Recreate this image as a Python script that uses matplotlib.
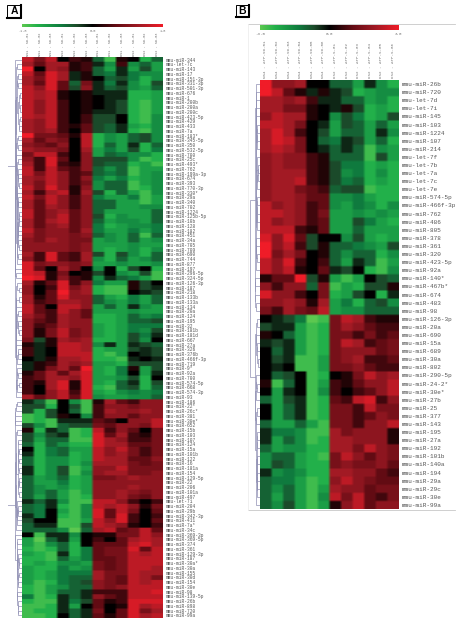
import numpy as np
import matplotlib
matplotlib.use("Agg")
import matplotlib.pyplot as plt
from matplotlib.colors import LinearSegmentedColormap
from matplotlib.patches import Rectangle

W, H = 463, 622

# panel A values, on a -9..9 scale
a_labels_top = ["344", "let-7c", "143", "17", "151-3p", "331-3p", "501-3p", "676", "1", "200b", "200a", "200c",
                "423-5p", "429", "433", "7a", "183*", "345-5p", "350", "532-5p", "700", "25c", "493*", "762",
                "199a-3p", "674", "393", "770-3p", "330*", "29a", "340", "702"]
a_top = [
    [7, 4, 7, 0, 2, 1, -3, -8, 1, 0, -7, -3],
    [6, 3, 6, 6, 1, 2, -1, -5, 2, -5, -3, -6],
    [9, 0, 6, 5, 1, 2, -3, -6, -1, -6, -2, -6],
    [7, 3, 8, 6, -1, 1, -3, -4, -1, -4, -5, -5],
    [6, 4, 8, 6, -1, 1, 0, -3, -2, -4, -7, -5],
    [6, 3, 8, 3, -3, 4, -1, -4, -1, -5, -7, -2],
    [7, 5, 8, 3, -2, 5, -1, -3, -2, -5, -6, -3],
    [7, 6, 7, 1, 0, 1, -1, -1, -1, -7, -7, -6],
    [7, 6, 7, 1, 0, 1, 0, -1, -1, -7, -7, -6],
    [7, 5, 7, 2, 0, 1, 0, -1, -2, -7, -8, -6],
    [7, 5, 7, 2, 0, 1, 0, -1, -2, -7, -8, -6],
    [7, 5, 7, 2, 0, 1, -1, -1, -2, -7, -8, -6],
    [7, 6, 7, 2, 0, 2, -2, -2, 0, -7, -8, -5],
    [6, 5, 7, 2, 0, 2, -2, -2, 0, -7, -8, -5],
    [6, 5, 7, 2, 1, 3, -2, -3, -1, -6, -7, -5],
    [6, 5, 6, 2, 0, 3, -2, -3, -1, -7, -8, -5],
    [9, 4, 4, 3, 1, 7, -7, -5, -6, -3, -2, -5],
    [6, 3, 5, 4, 0, 7, -7, -5, -6, -3, -2, -5],
    [5, 4, 3, 5, 0, 7, -7, -3, -6, -1, -7, -3],
    [6, 5, 5, 4, 0, 6, -6, -4, -6, -2, -7, -4],
    [4, 7, 7, 2, 0, 5, -6, -3, -4, -5, -5, -7],
    [5, 2, 8, 3, 0, 5, -2, -2, -2, -5, -8, -7],
    [6, 2, 8, 2, 1, 5, -2, -3, -3, -7, -6, -8],
    [7, 2, 7, 3, 2, 5, -3, -5, -3, -8, -6, -6],
    [7, 4, 7, 5, 2, 3, -3, -4, -3, -8, -6, -5],
    [6, 5, 7, 5, 2, 5, -4, -6, -4, -7, -6, -5],
    [6, 4, 7, 5, 2, 4, -5, -3, -3, -8, -6, -5],
    [7, 4, 8, 5, 1, 5, -5, -3, -3, -8, -7, -5],
    [6, 2, 6, 7, 1, 6, -2, -7, -3, -6, -8, -5],
    [7, 4, 7, 5, 2, 5, -4, -6, -6, -4, -8, -6],
    [6, 3, 7, 5, 2, 5, -3, -3, -6, -6, -8, -6],
    [6, 3, 6, 5, 2, 5, -3, -3, -6, -6, -5, -5],
]
a_labels_mid = ["1224", "125b-5p", "10b", "128", "182", "451", "34a", "705", "709", "690", "744", "877", "197",
                "296-5p", "324-5p", "126-3p", "187", "218", "133b", "133a", "134", "20a", "124", "195", "32",
                "181b", "181d", "667", "27a", "326", "376b", "466f-3p", "719", "9*", "92a", "700", "574-5p",
                "668", "574-3p", "93"]
a_mid = [
    [7, 3, 5, 6, 3, 5, -3, -6, -6, -6, -6, -3],
    [7, 3, 5, 7, 3, 5, -2, -7, -5, -6, -6, -3],
    [6, 3, 6, 7, 3, 5, -3, -6, -5, -5, -6, -3],
    [6, 3, 5, 6, 3, 5, -4, -7, -6, -5, -5, -4],
    [7, 4, 5, 5, 3, 6, -4, -6, -6, -4, -6, -4],
    [6, 4, 5, 5, 4, 5, -3, -5, -6, -3, -8, -3],
    [5, 4, 6, 5, 4, 4, -6, -5, -6, -3, -6, -5],
    [5, 5, 5, 5, 4, 5, -6, -6, -6, -5, -6, -6],
    [5, 5, 5, 5, 4, 5, -6, -7, -6, -5, -7, -5],
    [6, 2, 8, 3, 2, 6, -2, -7, -2, -5, -7, -3],
    [5, 2, 8, 3, 2, 6, -5, -7, -3, -6, -5, -3],
    [8, 4, 5, 5, 4, 5, -6, -6, -5, -6, -6, -5],
    [8, 3, 0, 6, 4, 0, -5, 0, -7, -2, 0, -7],
    [8, 7, 1, 4, 0, 1, -2, 0, -5, -6, -2, -8],
    [9, 8, 1, 5, 2, 1, -5, -1, -3, -4, -6, -8],
    [6, 1, 3, 8, 2, 5, -4, -6, -6, 1, -2, 0],
    [5, 0, 2, 8, 4, 6, -7, -8, -8, 1, -2, -1],
    [5, 0, 3, 9, 5, 6, -7, -8, -8, 0, -1, -2],
    [6, 1, 3, 8, 5, 5, -3, -6, -7, -4, -6, -3],
    [6, 2, 3, 6, 6, 5, -3, -5, -6, -4, -6, -3],
    [7, 3, 0, 7, 7, 5, -6, -3, -6, -1, -5, -6],
    [7, 3, 2, 7, 5, 3, -6, -6, -6, -5, -6, -6],
    [6, 4, 2, 6, 5, 3, -7, -7, -6, -3, -5, -4],
    [5, 3, 2, 6, 5, 5, -7, -7, -6, -3, -3, -2],
    [5, 2, 3, 6, 5, 5, -6, -7, -6, -4, -4, -4],
    [5, 1, 4, 7, 4, 5, -6, -7, -6, -4, -5, -2],
    [5, 1, 4, 7, 4, 5, -6, -7, -6, -2, -4, -1],
    [4, -2, 1, 6, 5, 6, -7, -7, -6, -2, -5, 0],
    [1, -1, 1, 7, 7, 6, -5, -1, -6, -1, -2, -3],
    [2, -1, 0, 7, 7, 6, -7, -6, -6, -2, -1, -2],
    [2, -1, 0, 7, 7, 7, -7, -8, -6, 0, -1, -2],
    [0, -1, 1, 6, 6, 7, -7, -7, -8, -1, 0, -1],
    [-1, 1, 2, 6, 5, 6, -6, -6, -7, -2, -2, -2],
    [-1, 1, 4, 6, 3, 9, -6, -7, -4, 1, -6, -2],
    [1, 3, 6, 3, 6, 8, -6, -7, -4, 0, -6, -1],
    [2, 3, 6, 6, 5, 8, -6, -6, -5, -2, -7, 0],
    [2, 1, 6, 8, 1, 8, -6, -7, -3, -1, -7, -2],
    [2, 0, 6, 8, 1, 8, -7, -8, -3, -2, -7, -3],
    [2, 0, 5, 7, 2, 8, -6, -7, -5, -4, -5, -4],
    [6, 3, 5, 7, 3, 8, -5, -6, -6, -5, -5, -3],
]
a_labels_low = ["186", "22*", "26c*", "381", "30e*", "652", "15b", "103", "107", "124", "15a", "101b", "122", "16",
                "181a", "154", "129-5p", "22", "206", "101a", "497", "let-7i", "204", "29b", "342-3p", "411", "7a*",
                "34c", "369-3p", "369-5p", "374", "361", "129-3p", "187", "30a*", "30a", "155", "30d", "154", "30e",
                "98", "139-5p", "26b", "898", "720", "99a"]
a_low = [
    [-1, -3, -8, 0, -5, -8, 1, 6, 3, 2, 5, 5],
    [-2, -2, -7, 0, -2, -8, 2, 5, 5, 4, 5, 5],
    [-2, -7, -2, 0, -3, -8, 2, 6, 5, 5, 6, 5],
    [-8, -7, -2, 1, 0, -5, 2, 5, 5, 3, 5, 5],
    [-8, -7, -8, -1, -1, -1, 3, 2, 0, 5, 5, 7],
    [-2, -5, -8, -3, -2, -2, 4, 3, 5, 5, 4, 7],
    [1, -7, -1, -3, -8, -7, 7, 2, 5, 3, 0, 4],
    [-2, -5, -2, -1, -8, -7, 8, 3, 6, 2, 1, 4],
    [-2, -6, -3, -3, -8, -8, 8, 6, 5, 2, 2, 4],
    [-3, -7, -3, -5, -7, -7, 8, 6, 6, 3, 3, 4],
    [0, -7, -4, -3, -6, -6, 7, 5, 7, 4, 2, 4],
    [-1, -7, -4, -3, -7, -6, 7, 5, 6, 4, 2, 4],
    [-3, -7, -5, -5, -7, -6, 7, 6, 6, 3, 3, 5],
    [-3, -7, -5, -5, -7, -5, 6, 6, 6, 4, 3, 4],
    [-1, -7, -5, -2, -8, -6, 5, 5, 7, 4, 4, 4],
    [-1, -7, -5, -2, -8, -5, 5, 6, 6, 4, 4, 5],
    [-3, -6, -5, -3, -7, -6, 4, 4, 5, 6, 5, 5],
    [-3, -6, -6, -4, -7, -6, 5, 5, 5, 5, 5, 5],
    [-3, -5, -6, -5, -7, -6, 5, 5, 5, 6, 5, 5],
    [-3, -5, -3, -6, -8, -6, 5, 5, 6, 5, 4, 5],
    [-3, -6, -3, -6, -8, -7, 5, 5, 6, 4, 3, 5],
    [-1, -3, -1, -5, -8, -8, 7, 7, 5, 2, 0, 2],
    [-3, -4, -1, -7, -8, -5, 7, 6, 7, 5, 1, 4],
    [-3, -4, 0, -6, -8, -5, 8, 3, 7, 4, 0, 3],
    [-1, -4, 0, -7, -8, -5, 8, 3, 8, 2, 0, 2],
    [-2, 0, 0, -8, -8, -6, 7, 5, 8, 2, 0, 3],
    [-3, -1, -1, -8, -8, -2, 7, 6, 5, 1, 0, 2],
    [-3, -3, -3, -5, -9, -3, 6, 7, 3, 4, 7, 3],
    [0, -8, -1, -1, -5, 0, 1, 1, 4, 4, 7, 5],
    [-6, -9, -3, -1, -6, 0, 2, 0, 3, 6, 7, 6],
    [-6, -8, -5, -3, -7, 0, 3, 3, 3, 7, 8, 6],
    [-7, -8, -7, -3, -7, -4, 3, 4, 4, 8, 3, 7],
    [-6, -7, -8, -1, -7, -4, 3, 4, 4, 7, 6, 7],
    [-7, -7, -8, -3, -6, -4, 3, 3, 4, 7, 7, 7],
    [-7, -6, -7, -5, -5, -6, 4, 3, 4, 7, 7, 7],
    [-6, -7, -7, -4, -6, -5, 4, 3, 4, 7, 7, 6],
    [-6, -7, -6, -4, -4, -4, 6, 4, 4, 7, 6, 6],
    [-6, -7, -6, -4, -3, -3, 6, 4, 3, 7, 6, 4],
    [-6, -8, -7, -4, -3, -2, 5, 4, 3, 7, 6, 7],
    [-7, -8, -6, -5, -3, -3, 5, 4, 5, 7, 7, 7],
    [-7, -8, -6, -3, -3, -1, 2, 2, 2, 7, 7, 8],
    [-4, -8, -7, -1, -3, -1, 5, 3, 2, 7, 7, 7],
    [-7, -8, -8, -1, -4, -2, 3, 1, 2, 8, 8, 8],
    [-8, -8, -7, -1, -6, 0, 3, 0, 1, 8, 6, 7],
    [-8, -7, -7, -1, -3, -1, 4, 0, 3, 8, 4, 6],
    [-8, -8, -7, 0, -3, -1, 3, 1, 3, 8, 6, 7],
]

# panel B values
b_labels = ["26b", "720", "let-7d", "let-7i", "145", "103", "1224", "107", "214", "let-7f", "let-7b", "let-7a",
            "let-7c", "let-7e", "574-5p", "466f-3p", "762", "486", "805", "378", "361", "320", "423-5p", "92a",
            "140*", "467b*", "674", "483", "98", "126-3p", "20a", "690", "15a", "689", "30a", "802", "290-5p",
            "24-2*", "30e*", "27b", "25", "377", "143", "195", "27a", "192", "101b", "140a", "194", "29a", "29c",
            "30e", "99a"]
b_vals = [
    [9, 5, 5, 6, 0, 0, -3, -3, -6, -1, -5, -7],
    [9, 7, 3, 1, -1, 1, -1, -2, -7, -6, -5, -5],
    [6, 6, 5, 6, 2, -1, -1, -3, -3, -6, -5, -7],
    [6, 6, 4, 4, 1, 0, -1, 1, -2, -7, -6, -7],
    [5, 7, 6, 6, 1, 0, -5, -2, -4, -7, -6, -2],
    [7, 7, 6, 4, 0, -1, -6, -2, -3, -6, -3, -6],
    [6, 8, 6, 2, 0, -2, -6, -3, -3, -6, -1, -5],
    [6, 8, 7, 4, 0, -3, -4, -1, -2, -6, -3, -7],
    [6, 7, 6, 4, 0, -1, -3, -1, -3, -8, -5, -6],
    [5, 6, 5, 5, 2, 1, -3, -3, -3, -8, -2, -6],
    [5, 6, 5, 5, 2, 1, -2, -4, -4, -7, -6, -7],
    [5, 6, 6, 6, 2, 1, -2, -5, -4, -7, -5, -7],
    [5, 6, 6, 7, 2, 1, -2, -4, -3, -7, -6, -7],
    [5, 6, 6, 4, 3, 2, -3, -2, -2, -8, -7, -7],
    [5, 6, 6, 5, 3, 3, -5, -5, -4, -6, -7, -7],
    [7, 5, 6, 5, 2, 3, -5, -6, -4, -5, -7, -5],
    [7, 7, 6, 5, 2, 4, -6, -6, -5, -6, -5, -6],
    [7, 5, 6, 5, 2, 3, -6, -6, -2, -4, -6, -7],
    [7, 7, 7, 2, 1, 3, -6, -6, -3, -6, -6, -6],
    [8, 5, 8, 3, -2, 0, 0, -5, -2, -6, -7, -6],
    [9, 5, 7, 2, -2, 1, -3, -3, -4, -5, -6, -2],
    [9, 4, 6, 4, 0, 1, -3, -5, -3, -3, -7, -5],
    [7, 5, 8, 2, 0, 2, -3, -6, -1, -3, -8, -6],
    [7, 5, 7, 1, 0, 3, -1, -2, 0, -7, -8, -5],
    [1, 3, 3, 9, -2, 1, -6, -8, -6, 0, -2, -3],
    [5, 2, 5, 5, -3, 4, -8, -6, -7, -2, -2, 1],
    [8, 5, 5, 2, 0, 4, -7, -6, -2, 0, -7, -1],
    [5, 5, 6, 5, 1, 6, -6, -4, -7, -3, -2, -5],
    [4, 2, 6, 4, 3, 7, -6, -5, -5, -3, -3, -3],
    [0, -1, -2, -4, -9, -8, 4, 7, 6, 2, 1, 1],
    [-2, -1, -1, -6, -8, -7, 4, 6, 5, 3, 2, 2],
    [1, 0, -3, -6, -8, -7, 4, 4, 2, 4, 2, 3],
    [-1, -2, -1, -6, -8, -7, 4, 7, 6, 2, 3, 4],
    [0, -3, -1, -6, -8, -7, 4, 5, 5, 5, 3, 4],
    [0, -2, -1, -8, -8, -6, 4, 5, 6, 2, 2, 3],
    [0, -1, 0, -8, -8, -6, 4, 4, 5, 3, 2, 2],
    [0, -3, -2, 0, -8, -7, 0, 1, 4, 7, 5, 6],
    [1, -8, -3, 0, -8, -6, 2, 1, 3, 5, 5, 7],
    [0, -6, -1, 0, -8, -5, 2, 0, 2, 3, 5, 7],
    [-3, -6, -2, -1, -8, -7, 3, 2, 7, 8, 2, 5],
    [0, -6, -3, -1, -8, -7, 4, 4, 2, 7, 4, 4],
    [0, -6, -3, -1, -8, -7, 4, 4, 2, 3, 5, 4],
    [-3, -6, -6, -3, -6, -8, 4, 4, 2, 5, 5, 7],
    [-1, -4, -4, -5, -8, -8, 6, 4, 5, 5, 5, 1],
    [-1, -6, -3, -5, -8, -7, 6, 6, 5, 5, 5, 1],
    [-3, -6, -5, -5, -7, -7, 6, 6, 4, 7, 5, 4],
    [-5, -3, -3, -6, -7, -8, 4, 7, 5, 3, 5, 4],
    [-5, -2, -3, -6, -7, -7, 4, 5, 4, 4, 5, 3],
    [-1, -5, -4, -5, -7, -7, 6, 6, 5, 5, 3, 2],
    [-3, -4, -4, -6, -8, -7, 5, 7, 5, 4, 3, 3],
    [-3, -5, -3, -6, -8, -6, 6, 5, 5, 3, 4, 4],
    [-3, -6, -3, -6, -8, -5, 7, 4, 7, 3, 2, 4],
    [-3, -5, -2, -6, -8, -6, 1, 5, 7, 3, 5, 5],
]

a_cols = ["NS1 - SD-01", "NS1 - SD-02", "NS1 - SD-03", "NS2 - SD-01", "NS2 - SD-02", "NS2 - SD-03",
          "DS1 - SD-01", "DS1 - SD-02", "DS1 - SD-03", "DS2 - SD-01", "DS2 - SD-02", "DS2 - SD-03"]
b_cols = ["NS4 - ATP-SD-01", "NS4 - ATP-SD-02", "NS4 - ATP-SD-03", "NS4 - ATP-SD-04", "NS4 - ATP-SD-05",
          "NS4 - ATP-SD-06", "DS2 - ATP-S-01", "DS2 - ATP-S-02", "DS2 - ATP-S-03", "DS2 - ATP-S-04",
          "DS2 - ATP-S-05", "DS2 - ATP-S-06"]
a_scale = ["-1.8", "0.0", "1.8"]
b_scale = ["-3.0", "0.0", "3.0"]

cmap = LinearSegmentedColormap.from_list("gbr", [
    (0.00, "#5cc850"), (0.11, "#22b04a"), (0.28, "#0f7a3e"), (0.39, "#1c4a2a"), (0.50, "#000000"),
    (0.67, "#640c14"), (0.83, "#a01a24"), (1.00, "#f01c28")])


def box(x0, y0, x1, y1):
    # axes placed by pixel box, y counted from the top
    return fig.add_axes([x0 / W, 1 - y1 / H, (x1 - x0) / W, (y1 - y0) / H])


def tree_segments(rows):
    # average linkage between neighbouring rows, keeps the row order of the heatmap
    nodes = [(np.array(r, float), i + 0.0, 0.0, 1) for i, r in enumerate(rows)]
    segs = []
    while len(nodes) > 1:
        d = [np.linalg.norm(nodes[i][0] - nodes[i + 1][0]) for i in range(len(nodes) - 1)]
        i = int(np.argmin(d))
        a, b = nodes[i], nodes[i + 1]
        h = max(d[i], a[2], b[2])
        segs.append(([a[2], h, h, b[2]], [a[1], a[1], b[1], b[1]]))
        n = a[3] + b[3]
        nodes[i:i + 2] = [((a[0] * a[3] + b[0] * b[3]) / n, (a[1] + b[1]) / 2, h, n)]
    return segs, nodes[0][2]


def panel(vals, labels, cols, scale, hm, bar, tree_x, font, lab_size, col_size, col_pad):
    x0, y0, x1, y1 = hm
    n = len(vals)
    ax = box(x0, y0, x1, y1)
    # repeated cells + bilinear gives the slightly soft cell edges of the scan
    soft = np.repeat(np.repeat(np.array(vals), 4, axis=0), 4, axis=1)
    ax.imshow(soft, cmap=cmap, vmin=-9, vmax=9, aspect="auto", interpolation="bilinear",
              extent=(-0.5, 11.5, n - 0.5, -0.5))
    ax.set_yticks(range(n))
    ax.set_yticklabels(["mmu-miR-" + s if not s.startswith("let") else "mmu-" + s for s in labels],
                       fontsize=lab_size, family=font, color="#555555")
    ax.yaxis.tick_right()
    ax.set_xticks(range(12))
    ax.set_xticklabels(cols, rotation=90, fontsize=col_size, family=font, color="#777777")
    ax.xaxis.tick_top()
    ax.tick_params(length=0, pad=col_pad, axis="x")
    ax.tick_params(length=0, pad=2.2, axis="y")
    for s in ax.spines.values():
        s.set_visible(False)

    dn = box(tree_x, y0, x0, y1)
    segs, top = tree_segments(vals)
    for xs, ys in segs:
        # heights on a root scale, the small merges would vanish otherwise
        dn.plot(np.array(xs) ** 0.6, ys, color="#9090b4", lw=0.5, solid_joinstyle="miter")
    dn.set_xlim(top ** 0.6, 0)
    dn.set_ylim(n - 0.5, -0.5)
    dn.axis("off")

    cb = box(x0, bar[0], x1, bar[1])
    cb.imshow(np.linspace(-9, 9, 256)[None, :], cmap=cmap, vmin=-9, vmax=9, aspect="auto")
    cb.set_xticks([0, 127.5, 255])
    cb.set_xticklabels(scale, fontsize=col_size, family=font, color="#777777")
    cb.set_yticks([])
    cb.tick_params(length=0, pad=1.2)
    for s in cb.spines.values():
        s.set_visible(False)


def letter(s, x0, y0, x1, y1):
    # boxed panel letter with a heavy right/bottom edge
    fig.add_artist(Rectangle((x0 / W, 1 - y1 / H), (x1 - x0) / W, (y1 - y0) / H, transform=fig.transFigure,
                             fc="white", ec="black", lw=0.7))
    fig.add_artist(plt.Line2D([x1 / W, x1 / W, x0 / W], [1 - y0 / H, 1 - y1 / H, 1 - y1 / H],
                              color="black", lw=1.5))
    fig.text((x0 + x1) / 2 / W, 1 - (y0 + y1) / 2 / H, s, ha="center", va="center", fontsize=7.5,
             fontweight="bold", family="Liberation Sans")


fig = plt.figure(figsize=(W / 100, H / 100), dpi=100, facecolor="white")

a_vals = a_top + a_mid + a_low
a_labels = a_labels_top + a_labels_mid + a_labels_low
panel(a_vals, a_labels, a_cols, a_scale, (22, 57.3, 163, 617.7), (24, 27.5), 7.5,
      "Liberation Mono", 3.25, 2.6, 1.2)
panel(b_vals, b_labels, b_cols, b_scale, (259.7, 80, 398.7, 509), (24.5, 30.5), 250.3,
      "Liberation Mono", 4.3, 3.0, 1.2)

# thin frame around panel B
for y in (24, 509.5):
    fig.add_artist(plt.Line2D([248 / W, 455 / W], [1 - y / H, 1 - y / H], color="#c8c8c8", lw=0.6))
fig.add_artist(plt.Line2D([248 / W, 248 / W], [1 - 24 / H, 1 - 509.5 / H], color="#eeeeee", lw=0.6))

letter("A", 7, 5, 21, 18)
letter("B", 236, 5, 249, 17)

plt.savefig("out.png", dpi=100)
